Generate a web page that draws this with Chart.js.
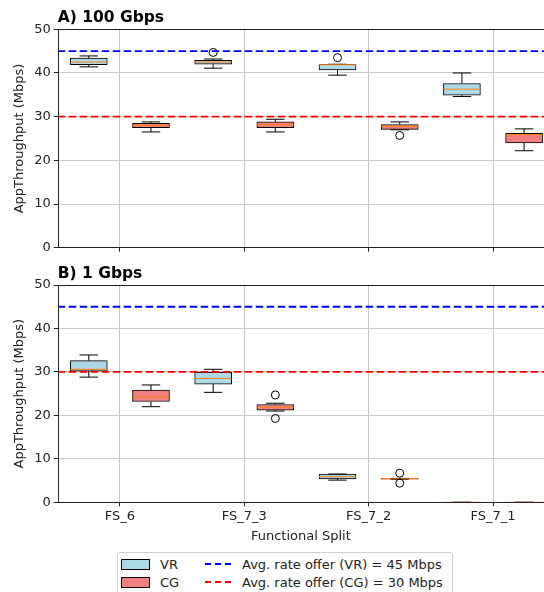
<!DOCTYPE html>
<html>
<head>
<meta charset="utf-8">
<script src="https://cdn.jsdelivr.net/npm/chart.js@4"></script>
<style>
  body { margin: 0; background: #fff; width: 544px; height: 592px; overflow: hidden; position: relative; font-family: 'DejaVu Sans', sans-serif; }
  #wrapA { position: absolute; left: 0; top: 0; width: 544px; height: 260px; }
  #wrapB { position: absolute; left: 0; top: 262px; width: 544px; height: 290px; }
  #legend { position: absolute; left: 117px; top: 552px; width: 334px; height: 50px; border: 1px solid #d0d0d0; border-radius: 3px; font-size: 13px; color: #222; }
  .item { position: absolute; display: flex; align-items: center; height: 16px; }
  .patch { width: 27px; height: 9px; border: 1px solid #000; margin-right: 10px; }
  .dash { width: 26px; height: 0; border-top: 2px dashed; margin-right: 11px; }
</style>
</head>
<body>
<div id="wrapA"><canvas id="chartA"></canvas></div>
<div id="wrapB"><canvas id="chartB"></canvas></div>
<div id="legend">
  <div class="item" style="left:3px;top:3px"><div class="patch" style="background:#add8e6"></div>VR</div>
  <div class="item" style="left:3px;top:21px"><div class="patch" style="background:#f08080"></div>CG</div>
  <div class="item" style="left:87px;top:3px"><div class="dash" style="border-color:#0000ff"></div>Avg. rate offer (VR) = 45 Mbps</div>
  <div class="item" style="left:87px;top:21px"><div class="dash" style="border-color:#ff0000"></div>Avg. rate offer (CG) = 30 Mbps</div>
</div>
<script>
// categories on the x axis
const categories = ['FS_6', 'FS_7_3', 'FS_7_2', 'FS_7_1'];

// box stats: [lower whisker, Q1, median, Q3, upper whisker]
const vr100 = [
  [41.4, 41.9, 42.5, 43.4, 43.9],
  [41.1, 42.0, 42.5, 42.9, 43.2],
  [39.5, 40.7, 41.9, 42.0, 42.0],
  [34.6, 34.9, 36.3, 37.6, 40.0]
];
const cg100 = [
  [26.5, 27.5, 28.0, 28.5, 28.8],
  [26.5, 27.5, 28.2, 28.8, 29.4],
  [27.0, 27.1, 27.8, 28.2, 28.8],
  [22.2, 24.0, 25.9, 26.2, 27.2]
];
const vrOut100 = [[], [44.7], [43.5], []];
const cgOut100 = [[], [], [25.7], []];

const vr1 = [
  [28.8, 30.2, 30.6, 32.6, 33.9],
  [25.3, 27.2, 28.5, 29.9, 30.6],
  [5.1, 5.4, 5.9, 6.5, 6.5],
  [0, 0, 0, 0, 0]
];
const cg1 = [
  [22.0, 23.2, 24.2, 25.8, 27.0],
  [21.0, 21.2, 21.9, 22.5, 22.8],
  [5.3, 5.3, 5.4, 5.5, 5.5],
  [0, 0, 0, 0, 0]
];
const vrOut1 = [[], [], [], []];
const cgOut1 = [[], [24.7, 19.3], [6.7, 4.4], []];

// offered rates
const vrOffer = 45;
const cgOffer = 30;

const vrColor = '#add8e6';
const cgColor = '#f08080';

Chart.defaults.font.family = 'DejaVu Sans';
Chart.defaults.font.size = 13;
Chart.defaults.color = '#222';

// draws whiskers, caps and medians on top of each box dataset
const boxPlugin = {
  id: 'boxExtras',
  afterDatasetDraw(chart, args) {
    const ds = chart.data.datasets[args.index];
    if (!ds.stats) return;
    const ctx = chart.ctx;
    const xs = chart.scales.x, ys = chart.scales.y;
    const half = ds.barThickness / 2;
    ctx.save();
    ds.stats.forEach((s, i) => {
      const cx = xs.getPixelForValue(i + ds.offset);
      ctx.strokeStyle = '#000';
      ctx.lineWidth = 1;
      ctx.beginPath();
      ctx.moveTo(cx, ys.getPixelForValue(s[1]));
      ctx.lineTo(cx, ys.getPixelForValue(s[0]));
      ctx.moveTo(cx, ys.getPixelForValue(s[3]));
      ctx.lineTo(cx, ys.getPixelForValue(s[4]));
      ctx.moveTo(cx - half / 2, ys.getPixelForValue(s[0]));
      ctx.lineTo(cx + half / 2, ys.getPixelForValue(s[0]));
      ctx.moveTo(cx - half / 2, ys.getPixelForValue(s[4]));
      ctx.lineTo(cx + half / 2, ys.getPixelForValue(s[4]));
      ctx.stroke();
      ctx.strokeStyle = '#ff7f0e';
      ctx.beginPath();
      ctx.moveTo(cx - half, ys.getPixelForValue(s[2]));
      ctx.lineTo(cx + half, ys.getPixelForValue(s[2]));
      ctx.stroke();
    });
    ctx.restore();
  },
  afterDraw(chart) {
    const a = chart.chartArea, ctx = chart.ctx;
    ctx.save();
    ctx.strokeStyle = '#222';
    ctx.lineWidth = 1;
    ctx.strokeRect(Math.round(a.left) + 0.5, Math.round(a.top) + 0.5, Math.round(a.right - a.left), Math.round(a.bottom - a.top));
    const t = chart.options.plugins.boxExtras.title;
    ctx.fillStyle = '#000';
    ctx.font = 'bold 15.5px "DejaVu Sans"';
    ctx.textBaseline = 'alphabetic';
    ctx.fillText(t, a.left, a.top - 7.5);
    ctx.restore();
  }
};

function buildChart(id, title, vrStats, cgStats, vrOut, cgOut, showLabels, padTop, xHeight) {
  const boxSet = (label, stats, offset, color) => ({
    type: 'bar',
    label: label,
    stats: stats,
    offset: offset,
    data: stats.map((s, i) => ({ x: i + offset, y: [s[1], s[3]] })),
    backgroundColor: color,
    borderColor: '#000',
    borderWidth: 1,
    borderSkipped: false,
    barThickness: 37,
    grouped: false,
    order: 3
  });
  const outSet = (stats, offset) => ({
    type: 'scatter',
    data: stats.flatMap((v, i) => v.map(y => ({ x: i + offset, y: y }))),
    pointRadius: 4,
    pointBorderWidth: 1,
    pointBorderColor: '#000',
    pointBackgroundColor: 'rgba(0,0,0,0)',
    order: 2
  });
  const refLine = (val, color) => ({
    type: 'line',
    data: [{ x: -0.5, y: val }, { x: 3.41, y: val }],
    borderColor: color,
    borderWidth: 1.8,
    borderDash: [7.5, 3.5],
    pointRadius: 0,
    order: 1
  });

  return new Chart(document.getElementById(id), {
    data: {
      datasets: [
        boxSet('VR', vrStats, -0.25, vrColor),
        boxSet('CG', cgStats, 0.25, cgColor),
        outSet(vrOut, -0.25),
        outSet(cgOut, 0.25),
        refLine(vrOffer, '#0000ff'),
        refLine(cgOffer, '#ff0000')
      ]
    },
    options: {
      responsive: true,
      maintainAspectRatio: false,
      animation: false,
      layout: { autoPadding: false, padding: { top: padTop, left: 0, right: 0, bottom: 0 } },
      plugins: {
        legend: { display: false },
        tooltip: { enabled: false },
        boxExtras: { title: title }
      },
      scales: {
        x: {
          type: 'linear',
          min: -0.5,
          max: 3.41,
          offset: false,
          afterBuildTicks: s => { s.ticks = categories.map((c, i) => ({ value: i })); },
          afterFit: s => { s.height = xHeight; s.paddingRight = 0; s.paddingLeft = 0; },
          ticks: {
            padding: 3,
            display: showLabels,
            callback: v => categories[v]
          },
          grid: { offset: false, color: '#c8c8c8', lineWidth: 1, tickColor: '#222', tickLength: 4 },
          border: { display: false },
          title: { display: showLabels, text: 'Functional Split', padding: { top: 0, bottom: 8 } }
        },
        y: {
          min: 0,
          max: 50,
          afterFit: s => { s.width = 57.7; },
          ticks: { stepSize: 10, padding: 3 },
          grid: { color: '#c8c8c8', lineWidth: 1, tickColor: '#222', tickLength: 4 },
          border: { display: false },
          title: { display: true, text: 'AppThroughput (Mbps)', padding: { top: 12, bottom: 0 } }
        }
      }
    },
    plugins: [boxPlugin]
  });
}

buildChart('chartA', 'A) 100 Gbps', vr100, cg100, vrOut100, cgOut100, false, 29.3, 12.3);
buildChart('chartB', 'B) 1 Gbps', vr1, cg1, vrOut1, cgOut1, true, 23, 49.7);
</script>
</body>
</html>
